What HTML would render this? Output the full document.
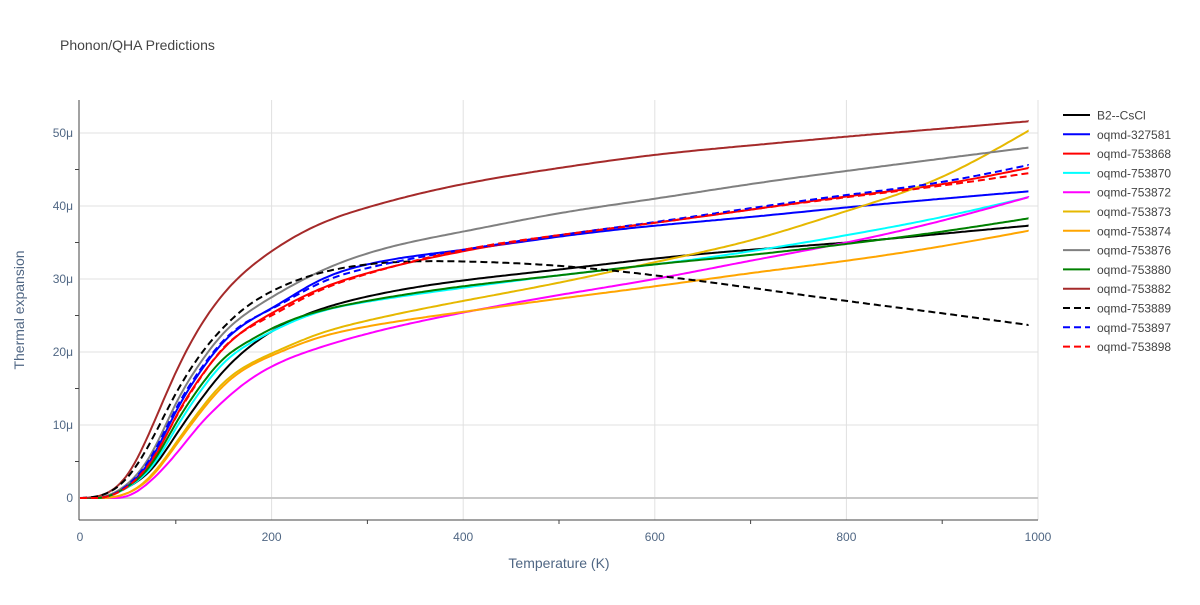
<!DOCTYPE html>
<html><head><meta charset="utf-8"><style>
body{margin:0;background:#fff;font-family:"Liberation Sans",sans-serif;}
</style></head><body>
<svg id="chart" width="1200" height="600" xmlns="http://www.w3.org/2000/svg">
<text x="60" y="50" font-size="14" fill="#444">Phonon/QHA Predictions</text>
<g id="grid"></g><g id="axes"></g><g id="series"></g><g id="legend"></g>
<text x="559" y="568" font-size="14" fill="#506784" text-anchor="middle">Temperature (K)</text>
<text x="24" y="310" font-size="14" fill="#506784" text-anchor="middle" transform="rotate(-90 24 310)">Thermal expansion</text>
</svg>
<script>
const temps=[0,25,50,75,100,125,150,175,200,250,300,400,500,600,700,800,900,990];
const names=["B2--CsCl","oqmd-327581","oqmd-753868","oqmd-753870","oqmd-753872","oqmd-753873","oqmd-753874","oqmd-753876","oqmd-753880","oqmd-753882","oqmd-753889","oqmd-753897","oqmd-753898"];
const colors=["#000000","#0000ff","#ff0000","#00ffff","#ff00ff","#e6b800","#ffa500","#808080","#008000","#a52a2a","#000000","#0000ff","#ff0000"];
const dashed=[false,false,false,false,false,false,false,false,false,false,true,true,true];
const s0=[0,0.1,1.5,4,8.6,13.3,17.4,20.5,22.8,25.8,27.6,29.8,31.3,32.8,34,35,36.2,37.3];
const s1=[0,0.1,1.7,5.5,11.8,17.2,21.4,24.1,26,29.8,32,34,35.8,37.3,38.5,39.8,41,42];
const s2=[0,0.1,1.6,5,11.1,16.4,20.5,23.3,25.3,28.6,30.8,33.8,36,37.7,39.5,41.3,43,45.2];
const s3=[0,0.1,1.5,4.3,9.5,14.5,18.5,21,22.8,25.5,26.9,28.8,30.5,32,33.8,36,38.5,41.2];
const s4=[0,0,0.3,2.5,6,10,13.3,16,18,20.6,22.5,25.4,27.8,30,32.5,35,38,41.2];
const s5=[0,0,0.7,3.2,7.5,12,15.8,18.2,19.8,22.5,24.3,27,29.5,32.3,35.3,39.3,44,50.3];
const s6=[0,0,0.7,3,7.2,11.6,15.4,17.9,19.5,22,23.5,25.5,27.3,29,30.8,32.5,34.5,36.6];
const s7=[0,0.2,2,6.2,12.9,18.4,22.6,25.4,27.5,31,33.5,36.5,39,41,43,44.8,46.5,48];
const s8=[0,0.1,1.6,4.7,10.2,15.2,19.1,21.4,23.2,25.6,27,29,30.5,32,33.3,34.8,36.5,38.3];
const s9=[0,0.5,3.3,9.7,17.2,23.4,28,31.3,33.8,37.5,39.8,43,45.2,47,48.3,49.5,50.6,51.6];
const s10=[0,0.5,2.9,8,14.3,19.5,23.4,26.3,28.3,30.8,32,32.4,31.8,30.5,28.8,27,25.3,23.7];
const s11=[0,0.1,1.8,5.8,12.2,17.5,21.6,24.2,25.9,29.4,31.5,34,36,37.8,39.7,41.5,43.3,45.6];
const s12=[0,0.1,1.6,5.2,11,16.3,20.6,23.2,25,28.4,30.7,34,36,37.7,39.5,41.2,42.8,44.5];
const series=[s0,s1,s2,s3,s4,s5,s6,s7,s8,s9,s10,s11,s12];
const xTicks=[0,200,400,600,800,1000];
const yTicks=[0,10,20,30,40,50];
const yTickLabels=["0","10μ","20μ","30μ","40μ","50μ"];
const NS="http://www.w3.org/2000/svg";
const X=t=>80+t*0.958, Y=v=>498-v*7.3;
function mk(tag,attrs,parent){const e=document.createElementNS(NS,tag);for(const k in attrs)e.setAttribute(k,attrs[k]);parent.appendChild(e);return e;}
const grid=document.getElementById('grid'),axes=document.getElementById('axes'),ser=document.getElementById('series'),leg=document.getElementById('legend');
xTicks.forEach(t=>{
 if(t>0){const g=mk('line',{x1:X(t),x2:X(t),y1:100,y2:520,stroke:'#e0e0e0'},grid);
 
 }
 const l=mk('text',{x:X(t),y:541,'font-size':12,fill:'#506784','text-anchor':'middle'},axes);l.textContent=t;
 
 
});
for(let t=100;t<=1000;t+=200){const m=mk('line',{x1:X(t),x2:X(t),y1:520,y2:524,stroke:'#444'},axes);
 
 }
yTicks.forEach((v,i)=>{
 const g=mk('line',{x1:80,x2:1038,y1:Y(v),y2:Y(v),stroke:v===0?'#c8c8c8':'#e0e0e0','stroke-width':v===0?2:1},grid);
 
 
 const l=mk('text',{x:73,y:Y(v)+4,'font-size':12,fill:'#506784','text-anchor':'end'},axes);l.textContent=yTickLabels[i];
 
 
});
for(let v=5;v<=50;v+=10){const m=mk('line',{x1:75,x2:79,y1:Y(v),y2:Y(v),stroke:'#444'},axes);
 
 }
const ya=mk('line',{x1:79,x2:79,y1:100,y2:520,stroke:'#444'},axes);


const xa=mk('line',{x1:79,x2:1038,y1:520,y2:520,stroke:'#444'},axes);


// natural cubic spline interpolation
function interp(xs,ys){
 const n=xs.length,h=[],a=new Array(n).fill(0),b=new Array(n).fill(0),c=new Array(n).fill(0),r=new Array(n).fill(0);
 for(let i=0;i<n-1;i++)h.push(xs[i+1]-xs[i]);
 b[0]=1;b[n-1]=1;
 for(let i=1;i<n-1;i++){a[i]=h[i-1];b[i]=2*(h[i-1]+h[i]);c[i]=h[i];r[i]=6*((ys[i+1]-ys[i])/h[i]-(ys[i]-ys[i-1])/h[i-1]);}
 for(let i=1;i<n;i++){const w=a[i]/b[i-1];b[i]-=w*c[i-1];r[i]-=w*r[i-1];}
 const M=new Array(n);M[n-1]=r[n-1]/b[n-1];
 for(let i=n-2;i>=0;i--)M[i]=(r[i]-c[i]*M[i+1])/b[i];
 return t=>{
  let i=0;while(i<n-2&&t>xs[i+1])i++;
  const hi=h[i],A=(xs[i+1]-t)/hi,B=(t-xs[i])/hi;
  return A*ys[i]+B*ys[i+1]+((A*A*A-A)*M[i]+(B*B*B-B)*M[i+1])*hi*hi/6;
 };
}
function pathFor(vals){
 const f=interp(temps,vals);let d='';
 for(let t=0;t<=990;t+=3){d+=(t?'L':'M')+X(t).toFixed(1)+','+Y(Math.max(0,f(t))).toFixed(1);}
 d+='L'+X(990)+','+Y(vals[vals.length-1]);
 return d;
}
series.forEach((vals,i)=>{
 const a={d:pathFor(vals),fill:'none',stroke:colors[i],'stroke-width':2};
 if(dashed[i])a['stroke-dasharray']='7,4';
 const p=mk('path',a,ser);
 
 
 const y=115+i*19.3;
 const g=mk('g',{},leg);
 
 
 const la={x1:1063,x2:1090,y1:y,y2:y,stroke:colors[i],'stroke-width':2};
 if(dashed[i])la['stroke-dasharray']='7,4';
 mk('line',la,g);
 const t=mk('text',{x:1097,y:y+4.5,'font-size':12,fill:'#444'},g);t.textContent=names[i];
});
</script>
</body></html>
